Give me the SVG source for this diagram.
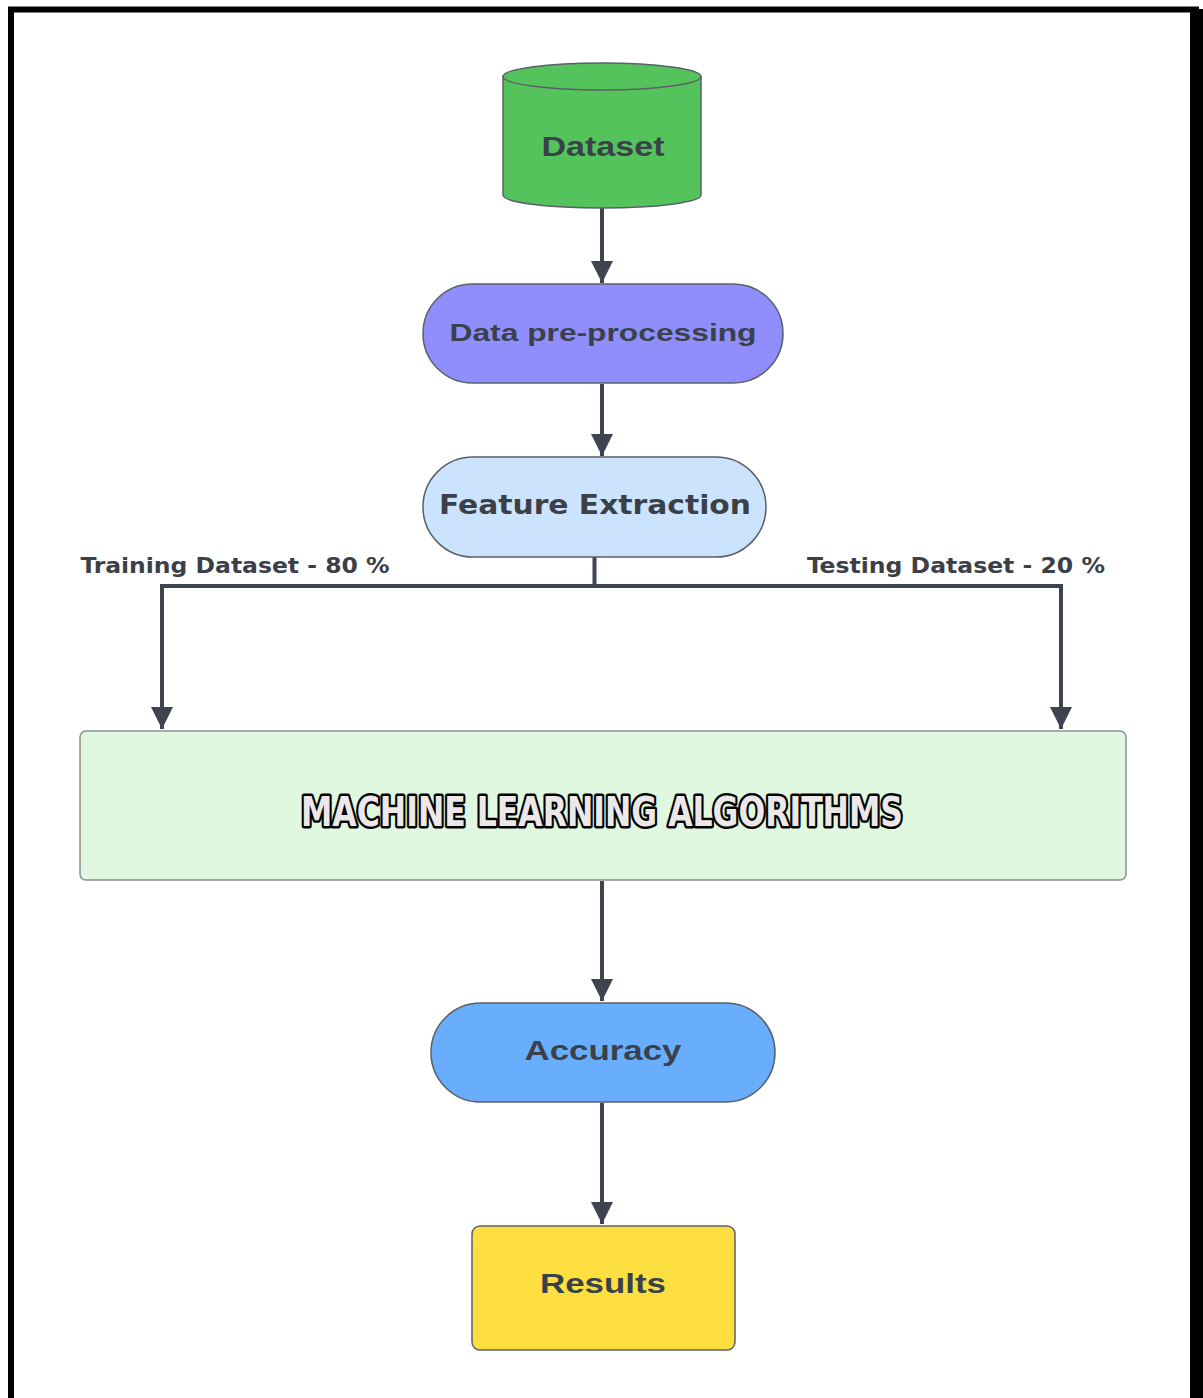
<svg xmlns="http://www.w3.org/2000/svg" width="1203" height="1398" viewBox="0 0 1203 1398">
<defs>
<style>
.lbl{font-family:"Liberation Sans",Arial,sans-serif;font-weight:bold;fill:#3a414a;text-anchor:middle}
.nar{font-family:"DejaVu Sans","Liberation Sans",Arial,sans-serif;font-stretch:condensed;font-weight:bold;fill:#3b4048;text-anchor:middle}
.node{stroke:#5b6068;stroke-width:1.5}
.conn{stroke:#3d4450;stroke-width:4;fill:none}
</style>
<marker id="ah" viewBox="0 0 10 10" refX="10" refY="5" markerWidth="5.5" markerHeight="6" markerUnits="strokeWidth" orient="auto">
<path d="M0,0 L10,5 L0,10 z" fill="#3d4450"/>
</marker>
</defs>
<rect width="1203" height="1398" fill="#ffffff"/>
<g id="frame">
<path d="M11,1398 V9.5 H1196 V1398" fill="none" stroke="#000" stroke-width="6"/>
<rect x="1190" y="9" width="13" height="1389" fill="#000"/>
</g>
<g id="connectors">
<line class="conn" x1="602" y1="208" x2="602" y2="283" marker-end="url(#ah)"/>
<line class="conn" x1="602" y1="384" x2="602" y2="456" marker-end="url(#ah)"/>
<polyline class="conn" points="594.5,557 594.5,586"/>
<polyline class="conn" points="162,729 162,586 1061,586 1061,729" marker-end="url(#ah)" stroke-linejoin="miter"/>
<line class="conn" x1="162" y1="590" x2="162" y2="729" marker-end="url(#ah)"/>
<line class="conn" x1="602" y1="881" x2="602" y2="1001" marker-end="url(#ah)"/>
<line class="conn" x1="602" y1="1103" x2="602" y2="1224" marker-end="url(#ah)"/>
</g>
<g id="dataset">
<path class="node" d="M503,76.5 V195 A99,13 0 0 0 701,195 V76.5 Z" fill="#55c35c"/>
<ellipse class="node" cx="602" cy="76.5" rx="99" ry="13.5" fill="#55c35c"/>
<text class="lbl" x="603" y="156" font-size="27" textLength="123" lengthAdjust="spacingAndGlyphs">Dataset</text>
</g>
<g id="preprocessing">
<rect class="node" x="423" y="284" width="360" height="99" rx="49.5" fill="#8f8efc"/>
<text class="lbl" x="603" y="341" font-size="24" textLength="307" lengthAdjust="spacingAndGlyphs">Data pre-processing</text>
</g>
<g id="feature">
<rect class="node" x="423" y="457" width="343" height="100" rx="50" fill="#cce3fd"/>
<text class="nar" x="595" y="514" font-size="27" textLength="312" lengthAdjust="spacingAndGlyphs">Feature Extraction</text>
</g>
<g id="labels">
<text class="nar" x="235" y="573" font-size="22" textLength="309" lengthAdjust="spacingAndGlyphs">Training Dataset - 80 %</text>
<text class="nar" x="956" y="573" font-size="22" textLength="298" lengthAdjust="spacingAndGlyphs">Testing Dataset - 20 %</text>
</g>
<g id="ml">
<rect x="80" y="731" width="1046" height="149" rx="6" fill="#e0f8df" stroke="#8a8f94" stroke-width="1.5"/>
<text x="602" y="826" font-family="'DejaVu Sans','Liberation Sans',sans-serif" font-stretch="condensed" font-weight="bold" font-size="40" text-anchor="middle" fill="#ece8e8" stroke="#000" stroke-width="5" stroke-linejoin="round" paint-order="stroke" textLength="602" lengthAdjust="spacingAndGlyphs">MACHINE LEARNING ALGORITHMS</text>
</g>
<g id="accuracy">
<rect class="node" x="431" y="1003" width="344" height="99" rx="49.5" fill="#69aefc"/>
<text class="lbl" x="603" y="1060" font-size="27" textLength="157" lengthAdjust="spacingAndGlyphs">Accuracy</text>
</g>
<g id="results">
<rect class="node" x="472" y="1226" width="263" height="124" rx="8" fill="#fde03f"/>
<text class="lbl" x="603" y="1293" font-size="27" textLength="126" lengthAdjust="spacingAndGlyphs">Results</text>
</g>
</svg>
